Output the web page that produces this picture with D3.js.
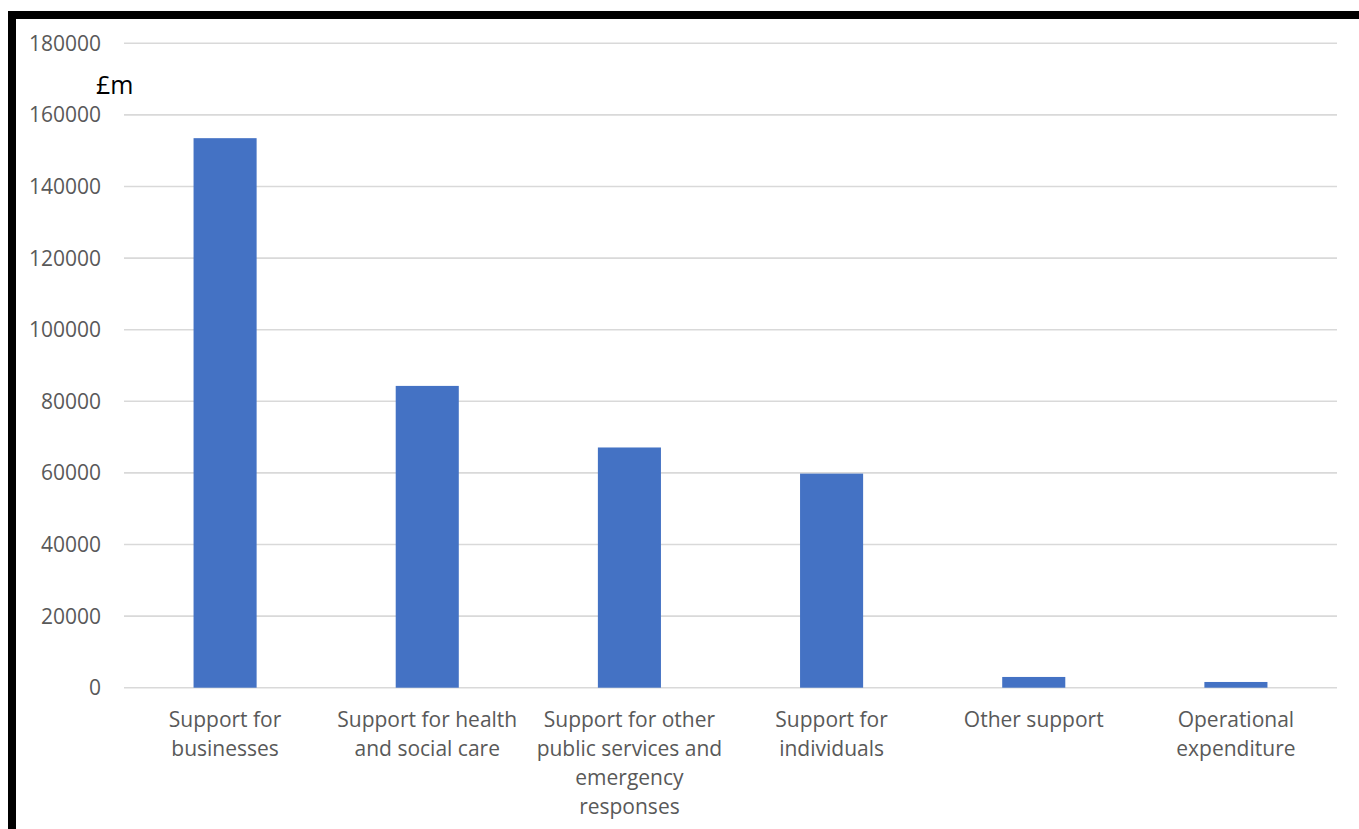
<!DOCTYPE html>
<html>
<head>
<meta charset="utf-8">
<script src="https://cdn.jsdelivr.net/npm/d3@7"></script>
<style>
  html, body { margin: 0; padding: 0; background: #fff; overflow: hidden; }
  svg { display: block; }
</style>
</head>
<body>
<svg id="chart" width="1359" height="829"></svg>
<script>
const categories = [
  "Support for businesses",
  "Support for health and social care",
  "Support for other public services and emergency responses",
  "Support for individuals",
  "Other support",
  "Operational expenditure"
];
const categoryLines = [
  ["Support for", "businesses"],
  ["Support for health", "and social care"],
  ["Support for other", "public services and", "emergency", "responses"],
  ["Support for", "individuals"],
  ["Other support"],
  ["Operational", "expenditure"]
];
const values = [153500, 84300, 67100, 59800, 3000, 1600];
const yTicks = [0, 20000, 40000, 60000, 80000, 100000, 120000, 140000, 160000, 180000];
const unitLabel = "£m";

const svg = d3.select("#chart");
const font = "'Open Sans', 'Liberation Sans', sans-serif";

// outer black frame (top and left visible)
svg.append("rect")
  .attr("x", 12).attr("y", 15)
  .attr("width", 1400).attr("height", 900)
  .attr("fill", "none").attr("stroke", "#000").attr("stroke-width", 8);

const y = d3.scaleLinear().domain([0, 180000]).range([687.7, 43.3]);
const x = d3.scaleBand().domain(categories).range([124, 1337]).padding(0);
const barW = x.bandwidth() * 0.312;

// gridlines
svg.append("g").selectAll("line").data(yTicks).join("line")
  .attr("x1", 124).attr("x2", 1337)
  .attr("y1", d => y(d)).attr("y2", d => y(d))
  .attr("stroke", "#d9d9d9").attr("stroke-width", 1.6);

// y tick labels
svg.append("g").selectAll("text").data(yTicks).join("text")
  .attr("x", 101).attr("y", d => y(d)).attr("dy", "0.36em")
  .attr("text-anchor", "end")
  .attr("font-family", font).attr("font-size", 21)
  .attr("fill", "#595959")
  .text(d => d);

// bars
svg.append("g").selectAll("rect").data(values).join("rect")
  .attr("x", (d, i) => x(categories[i]) + x.bandwidth() / 2 - barW / 2)
  .attr("width", barW)
  .attr("y", d => y(d))
  .attr("height", d => y(0) - y(d))
  .attr("fill", "#4472c4");

// category labels
const cg = svg.append("g");
categories.forEach((c, i) => {
  const t = cg.append("text")
    .attr("text-anchor", "middle")
    .attr("font-family", font).attr("font-size", 21)
    .attr("fill", "#595959");
  categoryLines[i].forEach((line, j) => {
    t.append("tspan")
      .attr("x", x(c) + x.bandwidth() / 2)
      .attr("y", 726.5 + j * 29)
      .text(line);
  });
});

// unit label
svg.append("text")
  .attr("x", 96).attr("y", 94)
  .attr("font-family", font).attr("font-size", 25)
  .attr("fill", "#000")
  .text(unitLabel);
</script>
</body>
</html>
